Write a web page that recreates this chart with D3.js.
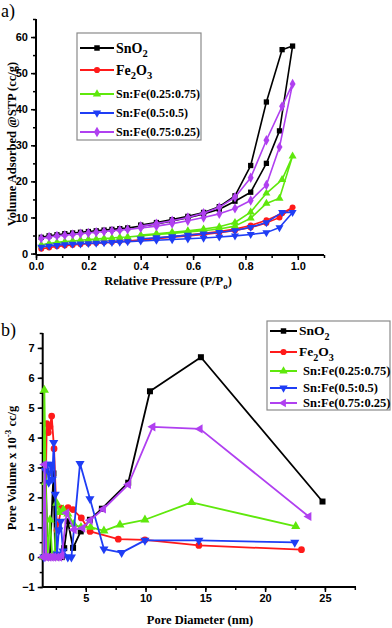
<!DOCTYPE html>
<html>
<head>
<meta charset="utf-8">
<script src="https://cdn.jsdelivr.net/npm/d3@7"></script>
<style>
  body { margin: 0; background: #fff; }
  svg { display: block; }
  .tick text { font-family: "Liberation Sans", Arial, sans-serif; font-weight: bold; font-size: 11px; fill: #000; }
  .axis-title, .legend text, .panel-label { font-family: "Liberation Serif", "Times New Roman", serif; font-weight: bold; fill: #000; }
</style>
</head>
<body>
<svg id="chart" width="392" height="628"></svg>
<script>
// ---- panel a: N2 isotherms (adsorption + desorption branch) ----
const adsP = [0.02, 0.05, 0.08, 0.11, 0.14, 0.17, 0.20, 0.23, 0.26, 0.29, 0.32, 0.35, 0.40, 0.46, 0.52, 0.58, 0.64, 0.70, 0.76, 0.82, 0.88, 0.93, 0.98];
const desP = [0.98, 0.94, 0.88, 0.82, 0.76, 0.70, 0.64, 0.58, 0.52, 0.46, 0.40];

const snAds = [4.5, 4.9, 5.2, 5.5, 5.7, 5.9, 6.1, 6.3, 6.5, 6.7, 6.9, 7.1, 7.6, 8.2, 9.0, 9.9, 11.0, 12.3, 14.5, 17.0, 25.0, 34.0, 57.5];
const snDes = [57.5, 56.5, 42.0, 24.4, 16.0, 13.0, 11.4, 10.3, 9.4, 8.6, 7.9];
const feAds = [1.3, 1.7, 2.0, 2.2, 2.4, 2.6, 2.8, 2.9, 3.1, 3.2, 3.4, 3.5, 3.8, 4.1, 4.5, 4.9, 5.3, 5.8, 6.4, 7.2, 8.5, 10.0, 12.8];
const feDes = [12.8, 11.2, 9.2, 7.8, 6.8, 6.1, 5.6, 5.1, 4.7, 4.3, 3.9];
const s25Ads = [2.4, 2.8, 3.1, 3.3, 3.5, 3.7, 3.9, 4.0, 4.2, 4.3, 4.5, 4.6, 4.9, 5.3, 5.6, 6.0, 6.3, 6.8, 7.6, 9.8, 13.9, 15.3, 27.0];
const s25Des = [27.0, 20.5, 16.7, 11.5, 8.6, 7.4, 6.8, 6.3, 5.9, 5.5, 5.1];
const s50Ads = [1.8, 2.1, 2.3, 2.5, 2.6, 2.7, 2.8, 2.9, 3.0, 3.1, 3.2, 3.3, 3.5, 3.7, 3.9, 4.1, 4.3, 4.6, 4.9, 5.3, 5.8, 7.2, 11.4];
const s50Des = [11.4, 11.4, 8.6, 7.3, 6.4, 5.9, 5.5, 5.1, 4.7, 4.4, 4.1];
const s75Ads = [4.2, 4.6, 4.9, 5.1, 5.3, 5.5, 5.7, 5.9, 6.1, 6.3, 6.5, 6.7, 7.1, 7.6, 8.3, 9.1, 10.0, 11.0, 12.5, 14.7, 19.0, 29.5, 47.0];
const s75Des = [47.0, 40.8, 31.4, 21.0, 15.6, 12.8, 11.2, 10.0, 9.1, 8.3, 7.6];

const aXTicks = [0, 0.2, 0.4, 0.6, 0.8, 1.0];
const aYTicks = [0, 10, 20, 30, 40, 50, 60];

// ---- panel b: pore size distribution ----
const snDiam = [1.5, 1.65, 1.8, 2.0, 2.3, 2.45, 2.7, 3.0, 3.2, 3.5, 3.94, 4.58, 5.35, 6.35, 8.55, 10.37, 14.63, 24.8];
const snVol  = [0.0, 2.9, 0.0, 0.0, 2.8, 0.0, 0.0, 0.0, 0.3, 1.2, 0.31, 0.86, 1.25, 1.62, 2.49, 5.55, 6.69, 1.86];
const feDiam = [1.55, 1.74, 1.87, 2.0, 2.15, 2.35, 2.6, 2.96, 3.52, 3.93, 4.63, 5.36, 7.72, 9.95, 14.46, 23.04];
const feVol  = [0.0, 4.47, 4.17, 4.37, 4.72, 3.63, 0.9, 1.64, 1.66, 1.59, 1.31, 0.86, 0.6, 0.58, 0.39, 0.25];
const s25Diam = [1.45, 1.54, 1.65, 1.8, 2.01, 2.2, 2.4, 2.57, 2.8, 3.12, 3.5, 4.0, 4.6, 5.4, 6.52, 7.86, 9.95, 13.85, 22.56];
const s25Vol  = [0.0, 5.59, 2.5, 0.0, 1.25, 0.0, 0.1, 1.81, 1.5, 1.59, 1.45, 1.1, 1.0, 1.0, 0.88, 1.08, 1.25, 1.83, 1.03];
const s50Diam = [1.5, 1.62, 1.76, 1.9, 2.07, 2.2, 2.32, 2.45, 2.6, 2.75, 2.9, 3.1, 3.5, 3.8, 4.52, 5.35, 6.52, 8.0, 9.95, 14.46, 22.48];
const s50Vol  = [0.0, 2.9, 3.1, 2.5, 3.1, 2.6, 3.83, 2.1, 0.1, 0.9, 1.2, 0.2, 0.0, 0.0, 3.13, 1.95, 0.27, 0.15, 0.56, 0.56, 0.49];
const s75Diam = [1.45, 1.55, 1.7, 1.9, 2.1, 2.3, 2.57, 2.8, 3.0, 3.4, 4.02, 4.74, 5.36, 6.47, 8.56, 10.6, 14.55, 23.65];
const s75Vol  = [0.0, 3.1, 0.0, 0.0, 0.0, 0.0, 0.0, 0.0, 0.05, 1.48, 0.92, 0.97, 1.23, 1.61, 2.43, 4.36, 4.29, 1.36];

const bXTicks = [5, 10, 15, 20, 25];
const bYTicks = [-1, 0, 1, 2, 3, 4, 5, 6, 7];

// series look: label parts [text, isSubscript], colour, marker for each panel
const seriesInfo = [
  { label: [["SnO", 0], ["2", 1]], color: "#000000", symA: "square", symB: "square" },
  { label: [["Fe", 0], ["2", 1], ["O", 0], ["3", 1]], color: "#ff1a1a", symA: "circle", symB: "circle" },
  { label: [["Sn:Fe(0.25:0.75)", 0]], color: "#5fe80c", symA: "up", symB: "up" },
  { label: [["Sn:Fe(0.5:0.5)", 0]], color: "#1f3df5", symA: "down", symB: "down" },
  { label: [["Sn:Fe(0.75:0.25)", 0]], color: "#b040f0", symA: "diamond", symB: "left" }
];

const svg = d3.select("#chart");

function marker(sel, kind, size) {
  const types = { square: d3.symbolSquare, circle: d3.symbolCircle, up: d3.symbolTriangle,
    down: d3.symbolTriangle, left: d3.symbolTriangle, diamond: d3.symbolDiamond };
  const rot = { down: 180, left: -90 };
  sel.attr("d", d3.symbol().type(types[kind]).size(kind === "diamond" ? size * 1.1 : size)())
    .attr("transform", function(d) {
      const base = d3.select(this).attr("data-t");
      return base + (rot[kind] ? ` rotate(${rot[kind]})` : "");
    });
}

function drawAxes(g, x, y, xTicks, xMinor, yTicks, yMinor, xFmt) {
  const [y0] = y.range();
  const xa = g.append("g").attr("transform", `translate(0,${y0})`);
  xa.call(d3.axisBottom(x).tickValues(xMinor).tickSize(3).tickFormat(""));
  xa.append("g").call(d3.axisBottom(x).tickValues(xTicks).tickSize(5).tickFormat(xFmt).tickPadding(2));
  const ya = g.append("g").attr("transform", `translate(${x.range()[0]},0)`);
  ya.call(d3.axisLeft(y).tickValues(yMinor).tickSize(3).tickFormat(""));
  ya.append("g").call(d3.axisLeft(y).tickValues(yTicks).tickSize(5).tickFormat(d3.format("d")).tickPadding(3));
  g.selectAll(".domain").attr("stroke", "#000").attr("stroke-width", 2);
  g.selectAll(".tick line").attr("stroke", "#000").attr("stroke-width", 1.5);
  // keep only one bold axis line per direction
  xa.select(":scope > g .domain").remove();
  ya.select(":scope > g .domain").remove();
  xa.select(".domain").attr("d", `M${x.range()[0]},0H${x.range()[1]}`);
  ya.select(".domain").attr("d", `M0,${y.range()[0]}V${y.range()[1]}`);
}

function drawSeries(g, x, y, pts, color, kind, size, lw) {
  const line = d3.line().x(d => x(d[0])).y(d => y(d[1]));
  g.append("path").datum(pts).attr("fill", "none").attr("stroke", color)
    .attr("stroke-width", lw).attr("stroke-linejoin", "round").attr("d", line);
  g.selectAll(null).data(pts).join("path")
    .attr("fill", color)
    .attr("data-t", d => `translate(${x(d[0])},${y(d[1])})`)
    .call(marker, kind, size);
}

function drawLegend(box, rows, symKey, size, fontBig, fontSmall, lineLen, textX2) {
  const lg = svg.append("g").attr("class", "legend");
  lg.append("rect").attr("x", box.x).attr("y", box.y).attr("width", box.w).attr("height", box.h)
    .attr("fill", "#fff").attr("stroke", "#8a8a8a").attr("stroke-width", 1.2);
  seriesInfo.forEach((s, i) => {
    const yy = rows[i];
    const x0 = box.x + 3;
    lg.append("line").attr("x1", x0).attr("x2", x0 + lineLen).attr("y1", yy).attr("y2", yy)
      .attr("stroke", s.color).attr("stroke-width", 2);
    lg.append("path").attr("fill", s.color)
      .attr("data-t", `translate(${x0 + lineLen / 2},${yy})`)
      .call(marker, s[symKey], size);
    const isChem = s.label.length > 1;
    const t = lg.append("text")
      .attr("x", isChem ? x0 + lineLen + 2 : x0 + lineLen + textX2)
      .attr("y", yy + (isChem ? fontBig * 0.33 : fontSmall * 0.35))
      .style("font-size", (isChem ? fontBig : fontSmall) + "px");
    s.label.forEach(([txt, sub], k) => {
      const prevSub = k > 0 ? s.label[k - 1][1] : 0;
      t.append("tspan").text(txt)
        .attr("dy", sub && !prevSub ? fontBig * 0.3 : (!sub && prevSub ? -fontBig * 0.3 : 0))
        .style("font-size", sub ? (fontBig * 0.75) + "px" : null);
    });
  });
}

// ================= panel a =================
const xA = d3.scaleLinear().domain([0, 1.1]).range([36, 324]);
const yA = d3.scaleLinear().domain([-0.4, 65]).range([255, 19]);
const gA = svg.append("g");
drawAxes(gA, xA, yA, aXTicks, d3.range(0, 1.101, 0.1), aYTicks, d3.range(0, 65.1, 5), d3.format(".1f"));

const isoA = [[snAds, snDes], [feAds, feDes], [s25Ads, s25Des], [s50Ads, s50Des], [s75Ads, s75Des]];
isoA.forEach(([ads, des], i) => {
  const pts = adsP.map((p, k) => [p, ads[k]]).concat(desP.slice(1).map((p, k) => [p, des[k + 1]]));
  drawSeries(gA, xA, yA, pts, seriesInfo[i].color, seriesInfo[i].symA, 28, 1.6);
});

svg.append("text").attr("class", "panel-label").attr("x", 1).attr("y", 17)
  .style("font-size", "18px").style("font-weight", "normal").text("a)");
svg.append("text").attr("class", "axis-title").attr("transform", "translate(16,144) rotate(-90)")
  .attr("text-anchor", "middle").style("font-size", "12.5px").text("Volume Adsorbed @STP (cc/g)");
const tA = svg.append("text").attr("class", "axis-title").attr("x", 168).attr("y", 285)
  .attr("text-anchor", "middle").style("font-size", "12.5px");
tA.append("tspan").text("Relative Pressure (P/P");
tA.append("tspan").text("o").attr("dy", 4).style("font-size", "9px");
tA.append("tspan").text(")").attr("dy", -4);

drawLegend({ x: 77, y: 33, w: 124, h: 107 }, [48, 70, 94, 113, 132], "symA", 30, 14, 12, 34, 2);

// ================= panel b =================
const xB = d3.scaleLinear().domain([1.4, 27.6]).range([42.7, 356]);
const yB = d3.scaleLinear().domain([-1, 7.5]).range([587, 333]);
const gB = svg.append("g");
drawAxes(gB, xB, yB, bXTicks, d3.range(2.5, 27.6, 2.5), bYTicks, d3.range(-1, 7.51, 0.5), d3.format("d"));

const psd = [[snDiam, snVol], [feDiam, feVol], [s25Diam, s25Vol], [s50Diam, s50Vol], [s75Diam, s75Vol]];
psd.forEach(([dd, vv], i) => {
  const pts = dd.map((d, k) => [d, vv[k]]);
  drawSeries(gB, xB, yB, pts, seriesInfo[i].color, seriesInfo[i].symB, 36, 1.8);
});

svg.append("text").attr("class", "panel-label").attr("x", 1).attr("y", 336)
  .style("font-size", "18px").style("font-weight", "normal").text("b)");
const tB = svg.append("text").attr("class", "axis-title").attr("transform", "translate(16,468) rotate(-90)")
  .attr("text-anchor", "middle").style("font-size", "12.5px");
tB.append("tspan").text("Pore Volume x 10");
tB.append("tspan").text("-3").attr("dy", -5).style("font-size", "9px");
tB.append("tspan").text(" cc/g").attr("dy", 5);
svg.append("text").attr("class", "axis-title").attr("x", 200).attr("y", 624)
  .attr("text-anchor", "middle").style("font-size", "12.5px").text("Pore Diameter (nm)");

drawLegend({ x: 267, y: 321, w: 123, h: 89 }, [331, 352, 371, 388, 403], "symB", 30, 13.5, 12.5, 27, 6);
</script>
</body>
</html>
